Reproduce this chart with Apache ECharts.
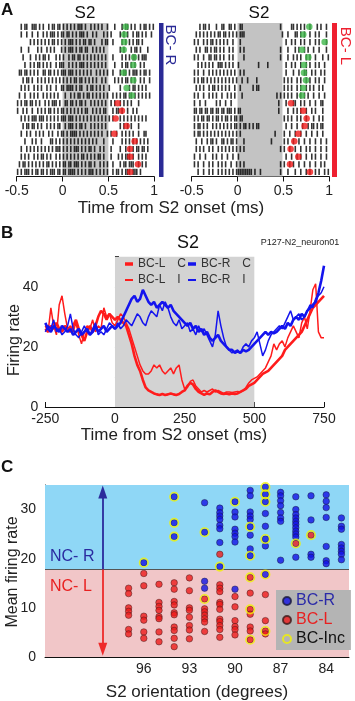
<!DOCTYPE html>
<html><head><meta charset="utf-8">
<script src="https://cdn.jsdelivr.net/npm/echarts@6/dist/echarts.min.js"></script>
<style>html,body{margin:0;padding:0;background:#fff}#c{width:355px;height:701px}</style>
</head><body><div id="c"></div>
<script>
// ---------- Panel A: raster data (each char = 0.02 ms bin from -0.5; '|' = spike) ----------
const rasterT0 = -0.5;
const rasterBin = 0.02;
const rasterBCR = [
"..|.| |..|| |.|.| ..|.| |.||. |.|.| .|.|| |.|.. |.|.| .|..| ...|. ..|.| |.|.| ..|.| |.|.|",
"..|.. |..|. .|..| .|.|| |.|.| |.||. |.|.| ||.|. .|.|. ..|.| .|... .|.|. |..|. ||.|. |..|.",
"..... ..|.| .|.|. |.|.| |.|.| .|.|| |.|.| .||.| |.|.. .|.|| ..|.. ..|.| .|.|. ||.|. .....",
"..|.. .|... .|.|. .|.|. |...| .|.|| |.|.| |.||. .|.|. |.|.. ..... .|.|. ..|.| |.|.. .|...",
"...|. ..|.. |.|.| |.|.. .|.|. |..|. ||.|| .|.|. |.|.| .|.|. ..|.. ..|.| .|.|| .|.|| |....",
"....| ..|.| .||.| .|.|. .|.|| |..|. |.|.| ||.|. |.|.| .|.|. ...|. ..|.| |.|.| ..|.| .....",
".||.| |.|.| .|..| |.||. |.|.| ||.|| |.|.| .|.|. |..|. |.|.| ..|.. .|.|| .|.|| |.|.| |.|..",
"...|. ||.|. .|.|. |.|.| .|.|. |.|.| .||.| |.|.| .|.|. .|.|. ...|. |.|.| |.|.| ..|.| ..|..",
"..|.| .|..| .|.|. .|.|. .|..| |.||| |.|.| |..|. ||.|. |.|.. |.... .|... .|.|| .|.|. |....",
".|..| ..|.| .|..| .|.|. |.|.. .|..| .|.|| .|.|| .|.|. |.|.| ..|.| .|.|| .||.| .|.|. |.|..",
"|.|.| |.||. |.|.. |.|.| ||.|. .||.| |.|.| |.|.. |.|.| .|.|. .|.|. .|.|. |.|.. .|... .....",
"|..|. |..|. .|.|. |.||. |.|.| |.|.| .|.|. |.||. .|.|. |.||. ..|.| |.|.. |..|. |.... .....",
"..|.| .|.|| |.||| .|.|. |.|.| ||.|| |.|.| .|.|. |.|.| .|.|. |.|.. .|.|. |.|.| .|.|. |....",
"...|. ||.|| .|.|. .|.|. |.||. .|.|| |.|.| |.|.. |.|.| .|.|. ..... .|.|. |.|.. .|... .....",
"..|.. |.|.. |.|.| ..|.| ..|.| |.|.| |||.| .|.|. |.|.| .|..| .|..| ..|.| .|.|. .|..| |....",
"....| ...|. |..|. ...|| .|.|. |.|.| .|.|. |.|.| .|.|. ..|.. ..|.. ..|.| .|.|. |.|.| .|...",
"..|.. |.|.| .|.|. |.|.| .|||. |.|.| .|||. |.|.| |.|.. |.|.. .|... .|..| .|.|. ||.|| .|...",
"..|.| .|..| .|.|| .|.|. .|.|. |.|.| .|.|. ||.|. |.|.| |.|.. .|... |.|.| ||.|. .|.|. |....",
".|.|| .|.|. |.|.| .||.| .|.|. ||.|| .|||. |.|.| |.|.. |.|.| ..|.. .|.|| .|||. .|.|. |....",
"|.|.| ||.|. ||.|| .|.|| |.||. ||.|| ||.|. |.|.| ||.|. |.|.| ..|.| |.|.| ||.|| |.|.. ....."
];
const rasterBCL = [
"....| .||.| ...|. .||.. ||.|. .||.. ..... ..... ..... ...|. ....| |.|.| .|..| ...|. |..|.",
"..|.| .|.|. |.|.| |.||. |.|.| .|||. ..... ..... ..... ....| ..|.. .||.| .|..| ..|.| ...|.",
".|.|. .|.|. ||.|. |.|.| ..|.. .|... ..... ..... ..... ..... .|..| .|..| .|..| ..|.| ...|.",
"..|.| ..||. |.||. |.|.. |.|.. .|.|. ..... ..... ..... ...|. ..|.. .|.|. .|.|. .|..| ...|.",
".|.|. .|..| |.||. |.|.. |.|.. ...|. ..... ..... ..... ...|. ..|.. |.|.| ..|.| ..|.. .|..|",
"...|. |.|.| .|..| ||.|. |.|.. |.... ..... .|... .|... ..... .|..| .|..| ..|.| ..|.| ..|..",
".|.|. .|..| .|.|. |.|.| .|.|. .|.|. ..... ..... ..... ..... .|... |..|. .||.. |.|.. |.|..",
".|.|. ||.|. |.|.| .|.|. |.|.| ..|.. |.... |.... ..... ..... |.|.| ..|.| ..|.| ..|.| ..|..",
"..|.| .|..| .||.| .|.|. |..|. .|... ...|. ||... ..... ..... |.|.| ..|.| ..|.| .|..| .|...",
".|.|. .|..| .|.|. .|..| .|.|. ..|.. ..... ..... ..... .|.|. |.|.| ..|.| .|.|. .|..| ..|..",
".|..| ..|.. ...|. |..|. .|... ..... ..... ..... ..... ..|.. .|... ||..| .|..| ..|.. ||...",
".||.| |.||. ||.|| .||.| ||.|. ||... ..... ..... ..... ..|.. ..|.. |.|.| ..|.. |.|.. .|...",
".|.|. ||.|| .|.|| .|.|| .|.|| .||.. ..... ..... ..... ..... |.|.| ..|.| ..|.. .|..| .|...",
".|.|| .|.|. .|.|. |.|.| .|.|| .|.|| .|.|. ||... ..... ..... .|..| ..|.. |..|. ||.|. ||...",
".|.|| .|.|. |.|.| .|.|. |.|.| .|... ..... ..... ..... |.... |..|. .|..| ..|.. |..|. .|...",
"..|.. |..|. ||.|. .||.| .||.| ...|. ..... ..... ...|. ..... |.|.. |..|. .|..| ..|.. |..|.",
"..|.| .|..| .|..| .|.|. |.|.| .|.|. ..... ..... ..... ...|. |..|. .|..| ..|.| ..|.. |..|.",
".|..| ..|.. .|.|. .|..| ..|.. |.... ..... ..... ..... ..... .|..| ..|.| ..|.. |.|.. |..|.",
".|.|. .|..| .|..| .|.|. .|..| .|.|. ..... ..... ..... ...|. |..|. |..|. .|..| ..|.. |.|..",
"...|. .|..| .|..| .|.|. |.|.| ||||| |||.| ..|.. ..... ...|. ..|.. .|..| ..|.| ..|.| ..|.|"
];
// choice-time markers (ms) per trial
const markBCRGreen = [0.689,0.674,0.674,0.667,0.780,0.772,0.667,0.772,0.699,0.758];
const markBCRRed   = [0.601,0.648,0.579,0.699,0.565,0.787,0.736,0.739,0.823,0.739];
const markBCLGreen = [0.783,0.717,0.950,0.703,0.772,0.725,0.725,0.747,0.717,0.703];
const markBCLRed   = [0.583,0.717,0.754,0.732,0.663,0.619,0.579,0.663,0.572,0.790];

// ---------- Panel B: firing-rate traces, sampled every 10 ms from -250 ms ----------
const rateT0 = -250;
const rateStep = 10;
const bcLC = [26,25,27,26,28,26,25,27,26,25, 27,29,26,24,22,25,27,25,27,30, 32,31,29,31,30,29,30,29,28,27,
  24,21,17,14,12,9,6.5,5.5,5,4.5, 4.2,4,4.3,4,4.2,4.5,4.2,4,4.3,5, 5.5,7,8,7.5,6,5,4.5,4,4.5,4.2,
  5,5.5,5,4.5,4.3,4.5,4.2,4.5,4.3,4.5, 5,5.5,6,7,7.5,8,9,10,11,11.5, 12,13,14,15,16,17,19,20,21,22,
  23,24,25,27,29,31,33,34,35,36, 37];
const bcLI = [27,25,33,27,24,34,37,31,26,27, 25,28,24,21,25,27,26,29,25,27, 26,33,30,31,28,27,29,31,30,28,
  26,23,20,17,14,12,11,11,12,14, 13,14,12,11,12,13,11,13,14,9, 6,6.5,8.5,9,7,6,5,5.5,5,5.5,
  6,5,5.5,5,4.5,5,5,4.8,5,5.2, 5,5.5,6.5,8,9,9.5,10,11,12,13, 15,17,21,19,21,22,20,23,25,27,
  25,23,28,30,26,32,39,41,25,23, 23];
const bcRC = [28,26,25,27,26,25,27,26,25,26, 24,25,26,24,25,26,24,25,27,25, 26,27,25,26,27,26,27,28,30,32,
  34,36,37,35,36,39,37,35,34,35, 33,34,35,34,33,34,32,31,30,29, 28,27,28,26,27,25,26,24,25,23,
  22,23,24,22,21,20,19,19,18,18.5, 18,19,18.5,19,20,21,22,23,24,25, 24,25,24.5,25,26,27,26,28,27,29,
  30,29,31,30,32,33,34,35,38,42, 47];
const bcRI = [25,27,26,29,25,26,24,25,27,31, 26,24,23,25,27,25,24,26,28,24, 25,24,26,28,27,26,28,26,27,29,
  28,27,29,31,30,28,27,30,32,31, 30,34,32,35,33,30,28,27,29,26, 27,28,25,26,24,27,25,26,24,22,
  20,24,32,27,23,20,19,18,18.5,19, 18,20,21,20,22,23,25,21,17,19, 22,24,25,26,27,26,28,30,32,29,
  30,31,29,30,32,34,33,36,37,38, 40];

// ---------- Panel C: mean firing rate per S2 orientation ----------
const orientations = [97,96,95,94,93,92,91,90,89,88,87,86,85,84,83];
const bcRRates = [
  [], [19.2], [], [32.6,27.3,24.5], [], [31.4,25.4,15.4,14.0],
  [30.3,29.4,28.7,28.0,26.8,26.1,23.3,18.4],
  [31.6,29.5,28.5,26.0,25.2,24.5,23.4,13.8],
  [33.9,32.8,29.5,28.7,28.0,26.5,24.8,22.0,20.6],
  [34.6,33.1,31.6,29.2,26.6,24.0,22.6,16.8],
  [33.5,32.8,31.8,30.8,29.4,28.3,27.6,19.7],
  [32.6,30.0,29.0,28.3,27.6,27.0,26.3,25.6,25.0,24.4,20.3],
  [32.8,27.9,20.9,20.3],
  [33.0,31.7,30.4,28.4,22.5,19.6,19.0],
  [28.3,26.6,26.0,22.9,22.2,21.5,20.9,19.8]
];
const bcLRates = [
  [14.0,12.9,10.0,9.3,8.5,5.6,4.7],
  [17.0,14.5,8.3,7.5,5.1,3.8],
  [14.8,11.1,10.3,9.5,8.2,7.8,5.1,3.1],
  [15.1,13.8,11.3,10.6,9.0,8.6,6.1,5.4,3.8,2.1],
  [16.1,13.5,10.0,9.5,8.1,6.4,5.5,3.7],
  [11.8,9.8,9.2,8.5,7.8,7.1,5.2],
  [20.9,14.7,14.0,13.3,11.1,10.7,9.7,7.7,7.2,6.4,5.6,4.0],
  [12.3,10.2,7.4,6.2,5.6,4.5],
  [16.2,13.0,9.7,8.7,6.1,5.3,3.5],
  [12.7,7.4,5.3,4.7],
  [], [23.1], [24.8], [], []
];
const bcIncRates = [
  [], [19.2], [], [32.6,27.3,24.5], [], [25.4,11.8], [18.4], [31.6],
  [26.5,20.6,16.2,9.7,3.5], [34.6,33.1,31.6,24.0,16.8,5.3], [], [23.1], [24.8], [], []
];
const ncBoundary = 17.8;

// ---------- build ----------
const FONT = 'Liberation Sans, Arial, Helvetica, sans-serif';
function rasterPoints(rows){
  const pts = [];
  rows.forEach((s, r) => {
    const c = s.replace(/ /g, '');
    for (let i = 0; i < c.length; i++) if (c[i] === '|') pts.push([rasterT0 + (i + 0.5) * rasterBin, r + 1]);
  });
  return pts;
}
function markerPts(arr, offset){ return arr.map((t, i) => [t, i + 1 + offset]); }
function trace(arr){ return arr.map((v, i) => [rateT0 + i * rateStep, v]); }
function colPts(cols){ const p = []; cols.forEach((a, k) => a.forEach(v => p.push([orientations[k], v]))); return p; }

const chart = echarts.init(document.getElementById('c'), null, {renderer: 'canvas', width: 355, height: 701});

const axisBlack = {lineStyle: {color: '#111', width: 1}};
const labelStyle = {color: '#222', fontSize: 14, fontFamily: FONT};

function rasterX(grid){
  return {gridIndex: grid, type: 'value', min: -0.5, max: 1, interval: 0.5,
    axisLine: axisBlack, axisTick: {show: true, length: 5, lineStyle: {color: '#111'}},
    axisLabel: Object.assign({margin: 8}, labelStyle), splitLine: {show: false}};
}
function rasterY(grid){
  return {gridIndex: grid, type: 'value', min: 0.5, max: 20.6, inverse: true, show: false};
}
const tickSym = {type: 'scatter', symbol: 'rect', symbolSize: [1.6, 6.2], itemStyle: {color: '#000'}, silent: true, z: 3};
const legendB = (name, left, top, h) => ({data: [name], left: left, top: top, padding: 0, icon: 'rect',
  itemWidth: 8, itemHeight: h, selectedMode: false,
  formatter: n => n.replace(' ', '\u2002\u2002'), textStyle: {fontSize: 12, color: '#333', fontFamily: FONT}});

const option = {
  animation: false,
  backgroundColor: '#fff',
  textStyle: {fontFamily: FONT},
  grid: [
    {left: 16.7, top: 23, width: 137.5, height: 153.5},
    {left: 191.7, top: 23, width: 137.5, height: 153.5},
    {left: 45.3, top: 256.7, width: 278.7, height: 150.3},
    {left: 45, top: 485, width: 304, height: 172}
  ],
  xAxis: [
    rasterX(0), rasterX(1),
    {gridIndex: 2, type: 'value', min: -250, max: 750, interval: 250,
      axisLine: axisBlack, axisTick: {inside: true, length: 5, lineStyle: {color: '#111'}},
      axisLabel: Object.assign({margin: 5}, labelStyle), splitLine: {show: false}},
    {gridIndex: 3, type: 'value', min: 82.5, max: 102.5, inverse: true,
      axisLine: axisBlack,
      axisTick: {inside: true, length: 4, customValues: [96, 93, 90, 87, 84], lineStyle: {color: '#111'}},
      axisLabel: Object.assign({margin: 5, customValues: [96, 93, 90, 87, 84]}, labelStyle),
      splitLine: {show: false}}
  ],
  yAxis: [
    rasterY(0), rasterY(1),
    {gridIndex: 2, type: 'value', min: 0, max: 50, interval: 10,
      axisLine: {show: true, lineStyle: {color: '#111'}},
      axisTick: {show: true, inside: true, length: 4, lineStyle: {color: '#111'}},
      axisLabel: Object.assign({margin: 7, formatter: v => (v % 20 === 0 ? String(v) : '')}, labelStyle),
      splitLine: {show: false}},
    {gridIndex: 3, type: 'value', min: 0, max: 35, interval: 10,
      axisLine: {show: true, lineStyle: {color: '#111'}},
      axisTick: {show: true, inside: true, length: 4, customValues: [0, 10, 20, 30], lineStyle: {color: '#111'}},
      axisLabel: Object.assign({margin: 9, customValues: [0, 10, 20, 30]}, labelStyle),
      splitLine: {show: false}}
  ],
  legend: [
    legendB('BC-L C', 125, 258, 3.5),
    legendB('BC-R C', 188, 258, 3.5),
    legendB('BC-L I', 125, 274, 2),
    legendB('BC-R I', 188, 274, 2),
    {data: [
        {name: 'BC-R', textStyle: {color: '#2a2aa8'}},
        {name: 'BC-L', textStyle: {color: '#e82020'}},
        {name: 'BC-Inc', textStyle: {color: '#111'}}],
      orient: 'vertical', left: 276, top: 590, padding: [3, 6, 3, 6], itemGap: 3,
      itemWidth: 8, itemHeight: 8, selectedMode: false, backgroundColor: '#b4b4b4',
      textStyle: {fontSize: 16, fontFamily: FONT}}
  ],
  series: [
    // Panel A left (BC-R)
    Object.assign({}, tickSym, {name: 'raster BC-R', xAxisIndex: 0, yAxisIndex: 0, data: rasterPoints(rasterBCR),
      markArea: {silent: true, itemStyle: {color: '#c6c6c6'}, data: [[{xAxis: 0}, {xAxis: 0.5}]]}}),
    {type: 'scatter', name: 'mark R g', xAxisIndex: 0, yAxisIndex: 0, data: markerPts(markBCRGreen, 0), symbolSize: 6.5, itemStyle: {color: '#3fb64a'}, z: 4, silent: true},
    {type: 'scatter', name: 'mark R r', xAxisIndex: 0, yAxisIndex: 0, data: markerPts(markBCRRed, 10), symbolSize: 6.5, itemStyle: {color: '#f01a1a'}, z: 4, silent: true},
    // Panel A right (BC-L)
    Object.assign({}, tickSym, {name: 'raster BC-L', xAxisIndex: 1, yAxisIndex: 1, data: rasterPoints(rasterBCL),
      markArea: {silent: true, itemStyle: {color: '#c3c3c3'}, data: [[{xAxis: 0}, {xAxis: 0.49}]]}}),
    {type: 'scatter', name: 'mark L g', xAxisIndex: 1, yAxisIndex: 1, data: markerPts(markBCLGreen, 0), symbolSize: 6.5, itemStyle: {color: '#3fb64a'}, z: 4, silent: true},
    {type: 'scatter', name: 'mark L r', xAxisIndex: 1, yAxisIndex: 1, data: markerPts(markBCLRed, 10), symbolSize: 6.5, itemStyle: {color: '#f01a1a'}, z: 4, silent: true},
    // Panel B
    {type: 'line', name: 'BC-L C', xAxisIndex: 2, yAxisIndex: 2, data: trace(bcLC), showSymbol: false, symbol: 'none',
      lineStyle: {color: '#ff1c1c', width: 2.6}, itemStyle: {color: '#ff1c1c'}, z: 3,
      markArea: {silent: true, itemStyle: {color: '#d3d3d3'}, data: [[{xAxis: 0}, {xAxis: 500}]]}},
    {type: 'line', name: 'BC-L I', xAxisIndex: 2, yAxisIndex: 2, data: trace(bcLI), showSymbol: false, symbol: 'none',
      lineStyle: {color: '#ff1c1c', width: 1.5}, itemStyle: {color: '#ff1c1c'}, z: 3},
    {type: 'line', name: 'BC-R C', xAxisIndex: 2, yAxisIndex: 2, data: trace(bcRC), showSymbol: false, symbol: 'none',
      lineStyle: {color: '#1414ee', width: 2.6}, itemStyle: {color: '#1414ee'}, z: 4},
    {type: 'line', name: 'BC-R I', xAxisIndex: 2, yAxisIndex: 2, data: trace(bcRI), showSymbol: false, symbol: 'none',
      lineStyle: {color: '#1414ee', width: 1.5}, itemStyle: {color: '#1414ee'}, z: 4},
    // Panel C
    {type: 'scatter', name: 'BC-R', xAxisIndex: 3, yAxisIndex: 3, data: colPts(bcRRates), symbolSize: 6.5,
      itemStyle: {color: '#1212e6', borderColor: '#1a1a3a', borderWidth: 0.6}, z: 3,
      markArea: {silent: true, data: [
        [{yAxis: ncBoundary, itemStyle: {color: '#8fd7f6'}}, {yAxis: 35}],
        [{yAxis: 0, itemStyle: {color: '#f1c6c8'}}, {yAxis: ncBoundary}]]},
      markLine: {silent: true, symbol: 'none', label: {show: false},
        lineStyle: {color: '#555', width: 1.2, type: 'solid'}, data: [{yAxis: ncBoundary}]}},
    {type: 'scatter', name: 'BC-L', xAxisIndex: 3, yAxisIndex: 3, data: colPts(bcLRates), symbolSize: 6.5,
      itemStyle: {color: '#ee1a1a', borderColor: '#3a1a1a', borderWidth: 0.6}, z: 3,
      markLine: {silent: true, symbol: ['none', 'triangle'], symbolSize: [9, 13], label: {show: false},
        data: [
          [{coord: [98.7, ncBoundary], lineStyle: {color: '#2b2b9c', width: 1.8, type: 'solid'}}, {coord: [98.7, 33.6]}],
          [{coord: [98.7, ncBoundary], lineStyle: {color: '#ee2a2a', width: 1.8, type: 'solid'}}, {coord: [98.7, 1.6]}]
        ]}},
    {type: 'scatter', name: 'BC-Inc', xAxisIndex: 3, yAxisIndex: 3, data: colPts(bcIncRates), symbolSize: 8.5,
      itemStyle: {color: 'rgba(0,0,0,0)', borderColor: '#f2f200', borderWidth: 1.6}, z: 5}
  ],
  graphic: [
    {type: 'text', x: 1, y: 2, style: {text: 'A', font: 'bold 17px ' + FONT, fill: '#111'}},
    {type: 'text', x: 85, y: 13, style: {text: 'S2', fontSize: 17, fontFamily: FONT, fill: '#111', align: 'center', verticalAlign: 'middle'}},
    {type: 'text', x: 259, y: 13, style: {text: 'S2', fontSize: 17, fontFamily: FONT, fill: '#111', align: 'center', verticalAlign: 'middle'}},
    {type: 'rect', shape: {x: 159, y: 23, width: 4.5, height: 154}, style: {fill: '#2a2a96'}},
    {type: 'rect', shape: {x: 332, y: 23, width: 5, height: 154}, style: {fill: '#ee2030'}},
    {type: 'text', x: 170, y: 45, rotation: -Math.PI / 2, style: {text: 'BC- R', fontSize: 15, fontFamily: FONT, fill: '#2a2a96', align: 'center', verticalAlign: 'middle'}},
    {type: 'text', x: 345, y: 46, rotation: -Math.PI / 2, style: {text: 'BC- L', fontSize: 15, fontFamily: FONT, fill: '#ee2030', align: 'center', verticalAlign: 'middle'}},
    {type: 'text', x: 171, y: 208, style: {text: 'Time from S2 onset (ms)', fontSize: 17, fontFamily: FONT, fill: '#222', align: 'center', verticalAlign: 'middle'}},
    {type: 'text', x: 1, y: 225, style: {text: 'B', font: 'bold 17px ' + FONT, fill: '#111'}},
    {type: 'text', x: 188, y: 243, style: {text: 'S2', fontSize: 18, fontFamily: FONT, fill: '#111', align: 'center', verticalAlign: 'middle'}},
    {type: 'text', x: 300, y: 243, style: {text: 'P127-N2_neuron01', fontSize: 9, fontFamily: FONT, fill: '#222', align: 'center', verticalAlign: 'middle'}},
    {type: 'text', x: 15, y: 340, rotation: Math.PI / 2, style: {text: 'Firing rate', fontSize: 16, fontFamily: FONT, fill: '#222', align: 'center', verticalAlign: 'middle'}},
    {type: 'text', x: 174, y: 435, style: {text: 'Time from S2 onset (ms)', fontSize: 17, fontFamily: FONT, fill: '#222', align: 'center', verticalAlign: 'middle'}},
    {type: 'text', x: 1, y: 459, style: {text: 'C', font: 'bold 17px ' + FONT, fill: '#111'}},
    {type: 'text', x: 50, y: 557, z: 10, style: {text: 'NC- R', fontSize: 16, fontFamily: FONT, fill: '#2a2aa0', align: 'left', verticalAlign: 'middle'}},
    {type: 'text', x: 50, y: 587, z: 10, style: {text: 'NC- L', fontSize: 16, fontFamily: FONT, fill: '#e82020', align: 'left', verticalAlign: 'middle'}},
    {type: 'text', x: 13, y: 572, rotation: Math.PI / 2, style: {text: 'Mean firing rate', fontSize: 16, fontFamily: FONT, fill: '#222', align: 'center', verticalAlign: 'middle'}},
    {type: 'text', x: 197, y: 692, style: {text: 'S2 orientation (degrees)', fontSize: 17, fontFamily: FONT, fill: '#222', align: 'center', verticalAlign: 'middle'}}
  ]
};
chart.setOption(option);
</script>
</body></html>
